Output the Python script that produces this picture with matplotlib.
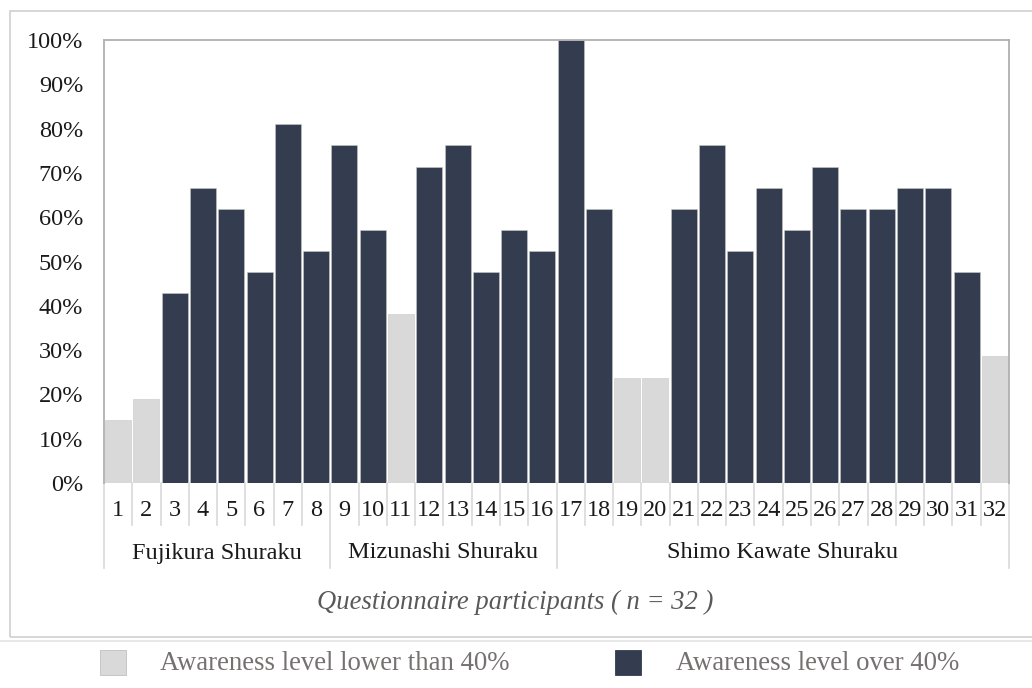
import numpy as np
import matplotlib
matplotlib.use("Agg")
import matplotlib.pyplot as plt
from matplotlib.patches import Rectangle
from matplotlib.lines import Line2D

participants = list(range(1, 33))
awareness = [14.3, 19.0, 42.9, 66.7, 61.9, 47.6, 81.0, 52.4, 76.2, 57.1,
             38.1, 71.4, 76.2, 47.6, 57.1, 52.4, 100.0, 61.9, 23.8, 23.8,
             61.9, 76.2, 52.4, 66.7, 57.1, 71.4, 61.9, 61.9, 66.7, 66.7,
             47.6, 28.6]
groups = ["Fujikura Shuraku", "Mizunashi Shuraku", "Shimo Kawate Shuraku"]
group_sizes = [8, 8, 16]
yticks = list(range(0, 101, 10))
legend_labels = ["Awareness level lower than 40%", "Awareness level over 40%"]

LIGHT = "#d9d9d9"
DARK = "#333d4f"

plt.rcParams['font.family'] = ['Liberation Serif', 'DejaVu Serif']

fig = plt.figure(figsize=(10.32, 6.88), dpi=100)
W, H = 1032, 688

def fx(px):
	return px / W

def fy(py):
	return 1 - py / H

# outer frame with a light shadow line under it
fig.patches.append(Rectangle((fx(10), fy(637)), fx(1040) - fx(10), fy(11) - fy(637),
                             transform=fig.transFigure, fill=False, edgecolor="#d0d0d0", lw=1.2))
fig.add_artist(Line2D([0, 1], [fy(641), fy(641)], transform=fig.transFigure, color="#e3e3e3", lw=1.2))

ax = fig.add_axes([fx(104), fy(483), fx(1009) - fx(104), fy(40) - fy(483)])

colors = [LIGHT if v < 40 else DARK for v in awareness]
ax.bar(participants, awareness, width=0.92, color=colors, edgecolor="#c8c8c8", linewidth=0.4)

ax.set_xlim(0.5, 32.5)
ax.set_ylim(0, 100)
ax.set_yticks(yticks)
ax.set_yticklabels(["{0}%".format(t) for t in yticks])
ax.tick_params(axis='y', length=0, pad=15, labelsize=17.5, labelcolor='#1a1a1a')
ax.set_xticks([])
for side in ['left', 'top', 'right']:
	ax.spines[side].set_color("#b0b0b0")
	ax.spines[side].set_linewidth(1.3)
ax.spines['bottom'].set_visible(False)

# category axis drawn by hand: numbers, separators, group names
trans = ax.get_xaxis_transform()
hgt = fy(40) - fy(483)
y_num = (fy(525) - fy(483)) / hgt
y_grp = (fy(568) - fy(483)) / hgt
y_numlab = (fy(510) - fy(483)) / hgt
y_grplab = (fy(553) - fy(483)) / hgt

for p in participants:
	ax.text(p, y_numlab, str(p), transform=trans, ha='center', va='center',
	        fontsize=17.5, color='#1a1a1a', clip_on=False)

edges = np.arange(0.5, 33.0, 1.0)
bounds = np.cumsum([0] + group_sizes) + 0.5
for e in edges:
	ytop = y_grp if e in bounds else y_num
	ax.add_line(Line2D([e, e], [0, ytop], transform=trans, color=LIGHT, lw=1.2, clip_on=False))

start = 0.5
for g, n in zip(groups, group_sizes):
	ax.text(start + n / 2.0, y_grplab, g, transform=trans, ha='center', va='center',
	        fontsize=17.5, color='#1a1a1a', clip_on=False)
	start += n

fig.text(fx(515), fy(602), "Questionnaire participants ( n = 32 )", ha='center', va='center',
         fontsize=19.2, style='italic', color='#595959')

# legend
fig.patches.append(Rectangle((fx(100), fy(675)), fx(26), fy(0) - fy(25), transform=fig.transFigure,
                             facecolor=LIGHT, edgecolor="#bfbfbf", lw=0.6))
fig.text(fx(160), fy(664), legend_labels[0], ha='left', va='center', fontsize=19.3, color='#767171')
fig.patches.append(Rectangle((fx(615), fy(675)), fx(26), fy(0) - fy(25), transform=fig.transFigure,
                             facecolor=DARK, edgecolor=DARK, lw=0.6))
fig.text(fx(676), fy(664), legend_labels[1], ha='left', va='center', fontsize=19.3, color='#767171')

fig.savefig("out.png", dpi=100)
